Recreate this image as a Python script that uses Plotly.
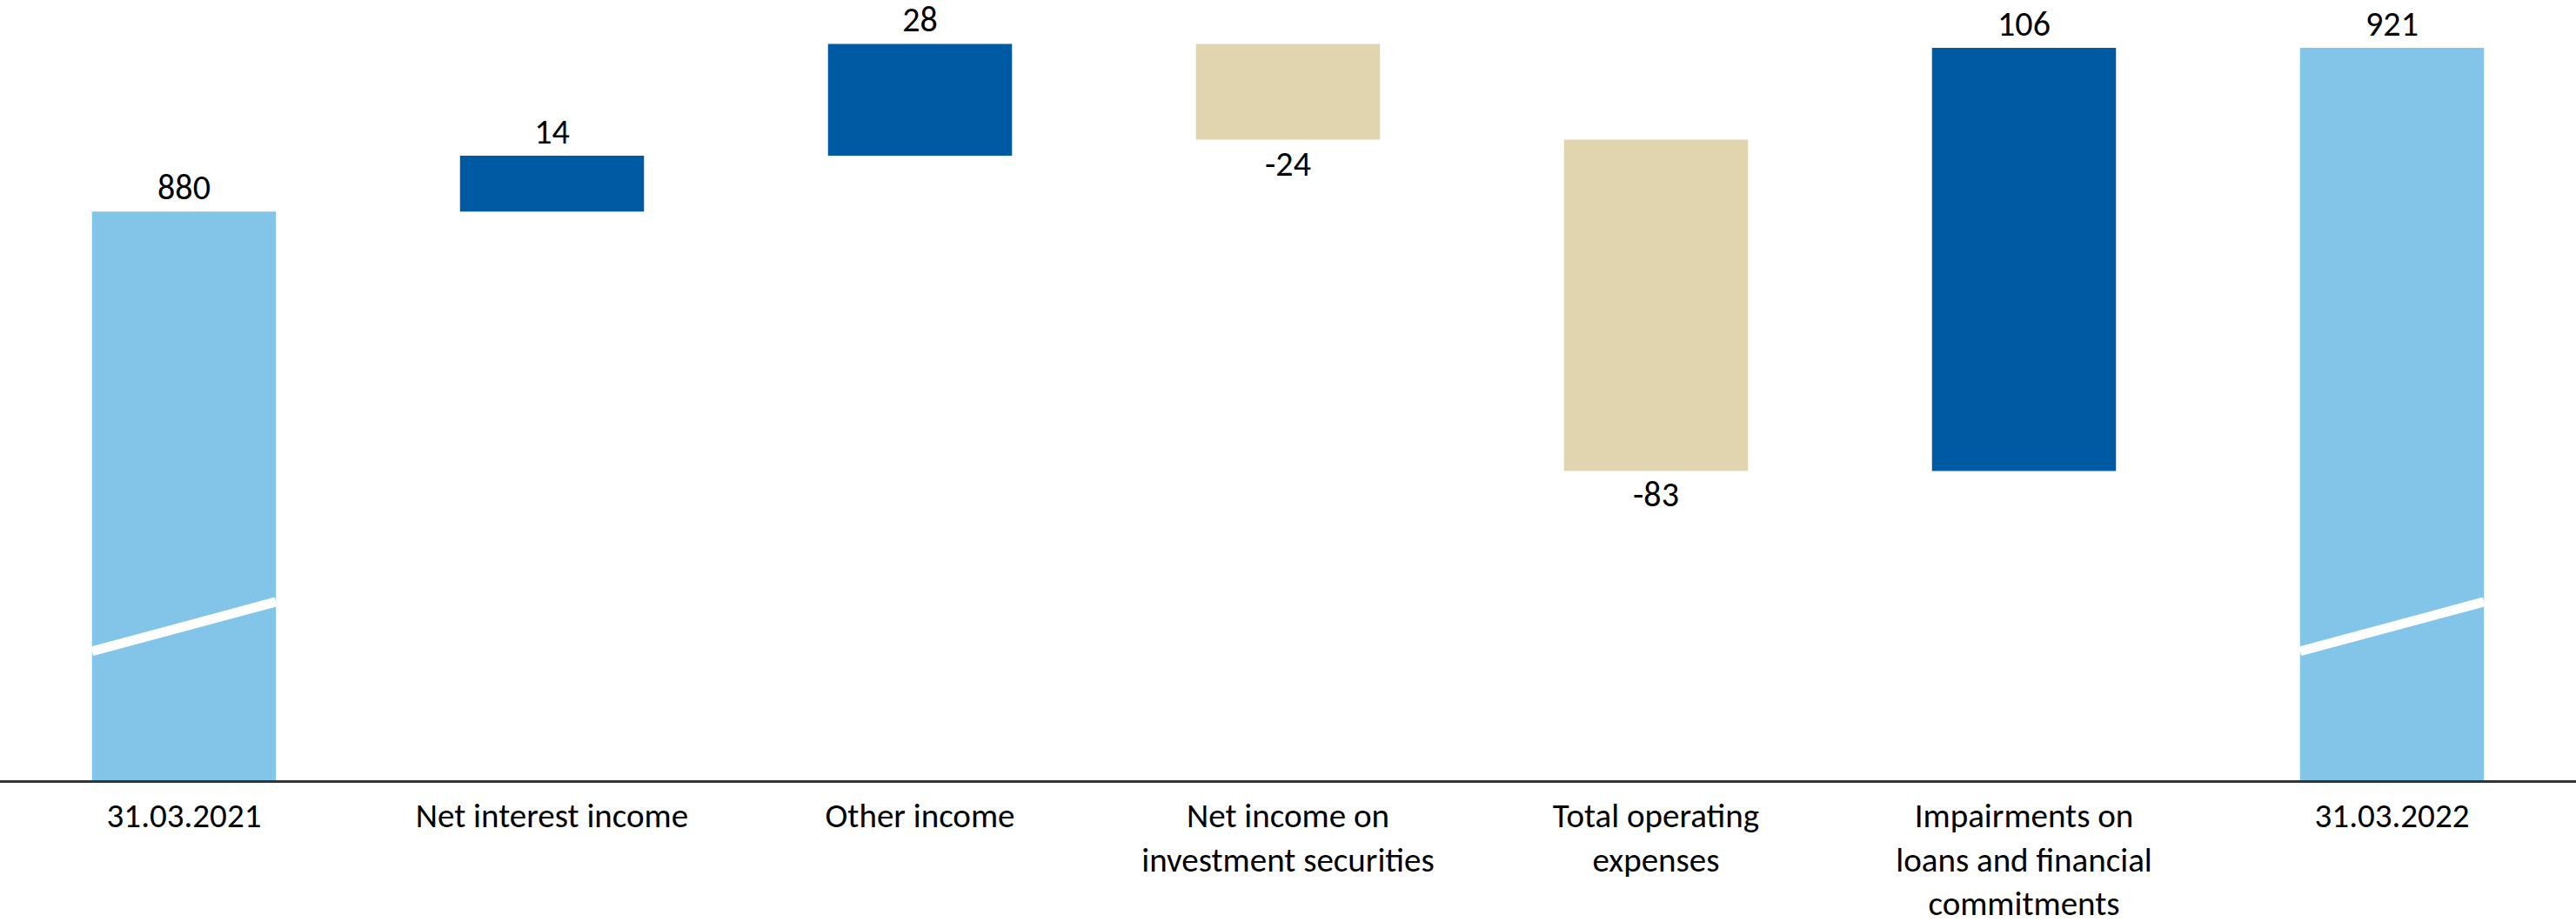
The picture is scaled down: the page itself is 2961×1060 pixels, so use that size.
import plotly.graph_objects as go

categories = [
    "31.03.2021",
    "Net interest income",
    "Other income",
    "Net income on<br>investment securities",
    "Total operating<br>expenses",
    "Impairments on<br>loans and financial<br>commitments",
    "31.03.2022",
]
values = [880, 14, 28, -24, -83, 106, 921]
measures = ["absolute", "relative", "relative", "relative", "relative", "relative", "total"]
labels = ["880", "14", "28", "-24", "-83", "106", "921"]

LIGHT = "#82C5E8"
DARK = "#005AA3"
BEIGE = "#E1D5AF"
FONT = "Carlito, Lato, sans-serif"

y_range = [737.5, 933]
break_y = (769.8, 782.2)  # axis-break marker (left, right) on the total bars
bar_width = 0.5

fig = go.Figure()
fig.add_trace(go.Waterfall(
    x=list(range(len(categories))),
    y=values,
    measure=measures,
    text=labels,
    textposition="outside",
    textfont=dict(family=FONT, size=40, color="black"),
    constraintext="none",
    cliponaxis=False,
    width=bar_width,
    increasing=dict(marker=dict(color=DARK, line=dict(width=0))),
    decreasing=dict(marker=dict(color=BEIGE, line=dict(width=0))),
    totals=dict(marker=dict(color=LIGHT, line=dict(width=0))),
    connector=dict(visible=False),
    hoverinfo="skip",
))

# axis-break markers on the two total bars
for i, m in enumerate(measures):
    if m in ("absolute", "total"):
        fig.add_shape(
            type="line", xref="x", yref="y",
            x0=i - bar_width / 2, x1=i + bar_width / 2,
            y0=break_y[0], y1=break_y[1],
            line=dict(color="white", width=11),
            layer="above",
        )

fig.update_layout(
    width=2961, height=1060,
    margin=dict(l=0, r=0, t=0, b=163, autoexpand=False),
    paper_bgcolor="white", plot_bgcolor="white",
    showlegend=False,
    font=dict(family=FONT, size=39, color="black"),
    xaxis=dict(
        tickmode="array",
        tickvals=list(range(len(categories))),
        ticktext=categories,
        range=[-0.5, len(categories) - 0.5],
        showline=True, linecolor="#333333", linewidth=3,
        showgrid=False, zeroline=False, automargin=False,
        ticks="outside", ticklen=4, tickcolor="rgba(0,0,0,0)",
        tickfont=dict(family=FONT, size=39, color="black"),
    ),
    yaxis=dict(
        range=y_range, visible=False, showgrid=False, zeroline=False,
    ),
)

fig.write_html("out.html")
